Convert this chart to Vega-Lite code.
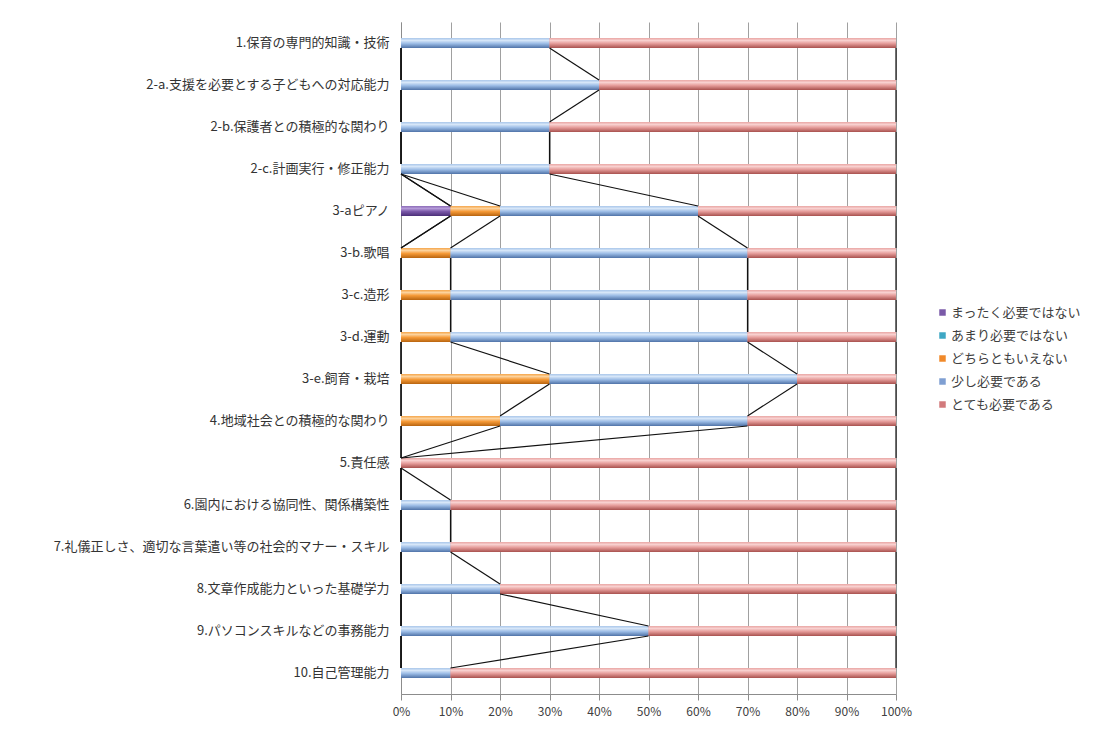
{
  "$schema": "https://vega.github.io/schema/vega-lite/v6.json",
  "width": 495,
  "height": 672,
  "autosize": {"type": "none"},
  "padding": {"left": 401, "top": 22, "right": 201, "bottom": 37},
  "background": "white",
  "config": {"font": "Noto Sans CJK JP", "view": {"stroke": null}},
  "data": {
    "values": [
      {"cat": "1.保育の専門的知識・技術", "order": 1, "series": "まったく必要ではない", "sorder": 1, "value": 0},
      {"cat": "1.保育の専門的知識・技術", "order": 1, "series": "あまり必要ではない", "sorder": 2, "value": 0},
      {"cat": "1.保育の専門的知識・技術", "order": 1, "series": "どちらともいえない", "sorder": 3, "value": 0},
      {"cat": "1.保育の専門的知識・技術", "order": 1, "series": "少し必要である", "sorder": 4, "value": 30},
      {"cat": "1.保育の専門的知識・技術", "order": 1, "series": "とても必要である", "sorder": 5, "value": 70},
      {"cat": "2-a.支援を必要とする子どもへの対応能力", "order": 2, "series": "まったく必要ではない", "sorder": 1, "value": 0},
      {"cat": "2-a.支援を必要とする子どもへの対応能力", "order": 2, "series": "あまり必要ではない", "sorder": 2, "value": 0},
      {"cat": "2-a.支援を必要とする子どもへの対応能力", "order": 2, "series": "どちらともいえない", "sorder": 3, "value": 0},
      {"cat": "2-a.支援を必要とする子どもへの対応能力", "order": 2, "series": "少し必要である", "sorder": 4, "value": 40},
      {"cat": "2-a.支援を必要とする子どもへの対応能力", "order": 2, "series": "とても必要である", "sorder": 5, "value": 60},
      {"cat": "2-b.保護者との積極的な関わり", "order": 3, "series": "まったく必要ではない", "sorder": 1, "value": 0},
      {"cat": "2-b.保護者との積極的な関わり", "order": 3, "series": "あまり必要ではない", "sorder": 2, "value": 0},
      {"cat": "2-b.保護者との積極的な関わり", "order": 3, "series": "どちらともいえない", "sorder": 3, "value": 0},
      {"cat": "2-b.保護者との積極的な関わり", "order": 3, "series": "少し必要である", "sorder": 4, "value": 30},
      {"cat": "2-b.保護者との積極的な関わり", "order": 3, "series": "とても必要である", "sorder": 5, "value": 70},
      {"cat": "2-c.計画実行・修正能力", "order": 4, "series": "まったく必要ではない", "sorder": 1, "value": 0},
      {"cat": "2-c.計画実行・修正能力", "order": 4, "series": "あまり必要ではない", "sorder": 2, "value": 0},
      {"cat": "2-c.計画実行・修正能力", "order": 4, "series": "どちらともいえない", "sorder": 3, "value": 0},
      {"cat": "2-c.計画実行・修正能力", "order": 4, "series": "少し必要である", "sorder": 4, "value": 30},
      {"cat": "2-c.計画実行・修正能力", "order": 4, "series": "とても必要である", "sorder": 5, "value": 70},
      {"cat": "3-aピアノ", "order": 5, "series": "まったく必要ではない", "sorder": 1, "value": 10},
      {"cat": "3-aピアノ", "order": 5, "series": "あまり必要ではない", "sorder": 2, "value": 0},
      {"cat": "3-aピアノ", "order": 5, "series": "どちらともいえない", "sorder": 3, "value": 10},
      {"cat": "3-aピアノ", "order": 5, "series": "少し必要である", "sorder": 4, "value": 40},
      {"cat": "3-aピアノ", "order": 5, "series": "とても必要である", "sorder": 5, "value": 40},
      {"cat": "3-b.歌唱", "order": 6, "series": "まったく必要ではない", "sorder": 1, "value": 0},
      {"cat": "3-b.歌唱", "order": 6, "series": "あまり必要ではない", "sorder": 2, "value": 0},
      {"cat": "3-b.歌唱", "order": 6, "series": "どちらともいえない", "sorder": 3, "value": 10},
      {"cat": "3-b.歌唱", "order": 6, "series": "少し必要である", "sorder": 4, "value": 60},
      {"cat": "3-b.歌唱", "order": 6, "series": "とても必要である", "sorder": 5, "value": 30},
      {"cat": "3-c.造形", "order": 7, "series": "まったく必要ではない", "sorder": 1, "value": 0},
      {"cat": "3-c.造形", "order": 7, "series": "あまり必要ではない", "sorder": 2, "value": 0},
      {"cat": "3-c.造形", "order": 7, "series": "どちらともいえない", "sorder": 3, "value": 10},
      {"cat": "3-c.造形", "order": 7, "series": "少し必要である", "sorder": 4, "value": 60},
      {"cat": "3-c.造形", "order": 7, "series": "とても必要である", "sorder": 5, "value": 30},
      {"cat": "3-d.運動", "order": 8, "series": "まったく必要ではない", "sorder": 1, "value": 0},
      {"cat": "3-d.運動", "order": 8, "series": "あまり必要ではない", "sorder": 2, "value": 0},
      {"cat": "3-d.運動", "order": 8, "series": "どちらともいえない", "sorder": 3, "value": 10},
      {"cat": "3-d.運動", "order": 8, "series": "少し必要である", "sorder": 4, "value": 60},
      {"cat": "3-d.運動", "order": 8, "series": "とても必要である", "sorder": 5, "value": 30},
      {"cat": "3-e.飼育・栽培", "order": 9, "series": "まったく必要ではない", "sorder": 1, "value": 0},
      {"cat": "3-e.飼育・栽培", "order": 9, "series": "あまり必要ではない", "sorder": 2, "value": 0},
      {"cat": "3-e.飼育・栽培", "order": 9, "series": "どちらともいえない", "sorder": 3, "value": 30},
      {"cat": "3-e.飼育・栽培", "order": 9, "series": "少し必要である", "sorder": 4, "value": 50},
      {"cat": "3-e.飼育・栽培", "order": 9, "series": "とても必要である", "sorder": 5, "value": 20},
      {"cat": "4.地域社会との積極的な関わり", "order": 10, "series": "まったく必要ではない", "sorder": 1, "value": 0},
      {"cat": "4.地域社会との積極的な関わり", "order": 10, "series": "あまり必要ではない", "sorder": 2, "value": 0},
      {"cat": "4.地域社会との積極的な関わり", "order": 10, "series": "どちらともいえない", "sorder": 3, "value": 20},
      {"cat": "4.地域社会との積極的な関わり", "order": 10, "series": "少し必要である", "sorder": 4, "value": 50},
      {"cat": "4.地域社会との積極的な関わり", "order": 10, "series": "とても必要である", "sorder": 5, "value": 30},
      {"cat": "5.責任感", "order": 11, "series": "まったく必要ではない", "sorder": 1, "value": 0},
      {"cat": "5.責任感", "order": 11, "series": "あまり必要ではない", "sorder": 2, "value": 0},
      {"cat": "5.責任感", "order": 11, "series": "どちらともいえない", "sorder": 3, "value": 0},
      {"cat": "5.責任感", "order": 11, "series": "少し必要である", "sorder": 4, "value": 0},
      {"cat": "5.責任感", "order": 11, "series": "とても必要である", "sorder": 5, "value": 100},
      {"cat": "6.園内における協同性、関係構築性", "order": 12, "series": "まったく必要ではない", "sorder": 1, "value": 0},
      {"cat": "6.園内における協同性、関係構築性", "order": 12, "series": "あまり必要ではない", "sorder": 2, "value": 0},
      {"cat": "6.園内における協同性、関係構築性", "order": 12, "series": "どちらともいえない", "sorder": 3, "value": 0},
      {"cat": "6.園内における協同性、関係構築性", "order": 12, "series": "少し必要である", "sorder": 4, "value": 10},
      {"cat": "6.園内における協同性、関係構築性", "order": 12, "series": "とても必要である", "sorder": 5, "value": 90},
      {"cat": "7.礼儀正しさ、適切な言葉遣い等の社会的マナー・スキル", "order": 13, "series": "まったく必要ではない", "sorder": 1, "value": 0},
      {"cat": "7.礼儀正しさ、適切な言葉遣い等の社会的マナー・スキル", "order": 13, "series": "あまり必要ではない", "sorder": 2, "value": 0},
      {"cat": "7.礼儀正しさ、適切な言葉遣い等の社会的マナー・スキル", "order": 13, "series": "どちらともいえない", "sorder": 3, "value": 0},
      {"cat": "7.礼儀正しさ、適切な言葉遣い等の社会的マナー・スキル", "order": 13, "series": "少し必要である", "sorder": 4, "value": 10},
      {"cat": "7.礼儀正しさ、適切な言葉遣い等の社会的マナー・スキル", "order": 13, "series": "とても必要である", "sorder": 5, "value": 90},
      {"cat": "8.文章作成能力といった基礎学力", "order": 14, "series": "まったく必要ではない", "sorder": 1, "value": 0},
      {"cat": "8.文章作成能力といった基礎学力", "order": 14, "series": "あまり必要ではない", "sorder": 2, "value": 0},
      {"cat": "8.文章作成能力といった基礎学力", "order": 14, "series": "どちらともいえない", "sorder": 3, "value": 0},
      {"cat": "8.文章作成能力といった基礎学力", "order": 14, "series": "少し必要である", "sorder": 4, "value": 20},
      {"cat": "8.文章作成能力といった基礎学力", "order": 14, "series": "とても必要である", "sorder": 5, "value": 80},
      {"cat": "9.パソコンスキルなどの事務能力", "order": 15, "series": "まったく必要ではない", "sorder": 1, "value": 0},
      {"cat": "9.パソコンスキルなどの事務能力", "order": 15, "series": "あまり必要ではない", "sorder": 2, "value": 0},
      {"cat": "9.パソコンスキルなどの事務能力", "order": 15, "series": "どちらともいえない", "sorder": 3, "value": 0},
      {"cat": "9.パソコンスキルなどの事務能力", "order": 15, "series": "少し必要である", "sorder": 4, "value": 50},
      {"cat": "9.パソコンスキルなどの事務能力", "order": 15, "series": "とても必要である", "sorder": 5, "value": 50},
      {"cat": "10.自己管理能力", "order": 16, "series": "まったく必要ではない", "sorder": 1, "value": 0},
      {"cat": "10.自己管理能力", "order": 16, "series": "あまり必要ではない", "sorder": 2, "value": 0},
      {"cat": "10.自己管理能力", "order": 16, "series": "どちらともいえない", "sorder": 3, "value": 0},
      {"cat": "10.自己管理能力", "order": 16, "series": "少し必要である", "sorder": 4, "value": 10},
      {"cat": "10.自己管理能力", "order": 16, "series": "とても必要である", "sorder": 5, "value": 90}
    ]
  },
  "transform": [
    {"stack": "value", "groupby": ["cat"], "sort": [{"field": "sorder"}], "as": ["x0", "x1"]}
  ],
  "encoding": {
    "y": {
      "field": "cat", "type": "nominal",
      "sort": {"field": "order", "op": "min"},
      "scale": {"paddingInner": 0, "paddingOuter": 0},
      "axis": {"title": null, "labelFontSize": 13, "labelColor": "#333333", "ticks": false, "domainColor": "#8c8c8c", "labelPadding": 12, "grid": false, "labelLimit": 400}
    },
    "x": {
      "field": "x0", "type": "quantitative",
      "scale": {"domain": [0, 100], "nice": false},
      "axis": {"title": null, "values": [0, 10, 20, 30, 40, 50, 60, 70, 80, 90, 100], "labelExpr": "datum.value + '%'", "labelFlush": false, "labelOverlap": false, "labelFontSize": 12, "labelColor": "#404040", "grid": true, "gridColor": "#a0a0a0", "gridOpacity": 1, "tickColor": "#8c8c8c", "domainColor": "#8c8c8c", "tickSize": 6, "labelPadding": 6}
    },
    "x2": {"field": "x1"}
  },
  "layer": [
    {
      "mark": {"type": "bar", "size": 10},
      "encoding": {
        "color": {
          "field": "series", "type": "nominal",
          "scale": {
            "domain": ["まったく必要ではない", "あまり必要ではない", "どちらともいえない", "少し必要である", "とても必要である"],
            "range": ["#7a5aa8", "#3ea7c4", "#f0892a", "#7f9fd2", "#d27a7c"]
          },
          "legend": {"orient": "none", "legendX": 535, "legendY": 284, "title": null, "symbolType": "square", "symbolSize": 42, "symbolStrokeWidth": 0, "labelFontSize": 13, "labelColor": "#404040", "rowPadding": 9, "padding": 0, "labelOffset": 2}
        }
      }
    },
    {
      "mark": {"type": "bar", "size": 10},
      "encoding": {
        "fill": {
          "condition": [
            {"test": "datum.series === 'まったく必要ではない'", "value": {"gradient": "linear", "x1": 0, "y1": 0, "x2": 0, "y2": 1, "stops": [{"offset": 0, "color": "#8c6cb8"}, {"offset": 0.25, "color": "#b49ad8"}, {"offset": 0.55, "color": "#7a58a8"}, {"offset": 1, "color": "#4b2e78"}]}},
            {"test": "datum.series === 'あまり必要ではない'", "value": {"gradient": "linear", "x1": 0, "y1": 0, "x2": 0, "y2": 1, "stops": [{"offset": 0, "color": "#5fb6cf"}, {"offset": 0.25, "color": "#a6dbe9"}, {"offset": 0.55, "color": "#4bacc6"}, {"offset": 1, "color": "#2a7a90"}]}},
            {"test": "datum.series === 'どちらともいえない'", "value": {"gradient": "linear", "x1": 0, "y1": 0, "x2": 0, "y2": 1, "stops": [{"offset": 0, "color": "#f5a54a"}, {"offset": 0.25, "color": "#fcd29c"}, {"offset": 0.55, "color": "#f59a38"}, {"offset": 1, "color": "#b8640f"}]}},
            {"test": "datum.series === '少し必要である'", "value": {"gradient": "linear", "x1": 0, "y1": 0, "x2": 0, "y2": 1, "stops": [{"offset": 0, "color": "#a9c6ea"}, {"offset": 0.25, "color": "#d6e6f8"}, {"offset": 0.55, "color": "#9dbde6"}, {"offset": 1, "color": "#4f73a8"}]}}
          ],
          "value": {"gradient": "linear", "x1": 0, "y1": 0, "x2": 0, "y2": 1, "stops": [{"offset": 0, "color": "#e9a6a4"}, {"offset": 0.25, "color": "#f8d0cf"}, {"offset": 0.55, "color": "#e59c9a"}, {"offset": 1, "color": "#a8514e"}]}
        }
      }
    },
    {
      "transform": [
        {"window": [{"op": "lead", "field": "x1", "as": "nx"}, {"op": "lead", "field": "cat", "as": "ncat"}], "groupby": ["series"], "sort": [{"field": "order"}]},
        {"filter": "datum.ncat != null"}
      ],
      "mark": {"type": "rule", "color": "#111111", "strokeWidth": 1.2, "yOffset": 5, "y2Offset": -5},
      "encoding": {
        "x": {
          "field": "x1", "type": "quantitative",
          "scale": {"domain": [0, 100], "nice": false},
          "axis": {"title": null, "values": [0, 10, 20, 30, 40, 50, 60, 70, 80, 90, 100], "labelExpr": "datum.value + '%'", "labelFlush": false, "labelOverlap": false, "labelFontSize": 12, "labelColor": "#404040", "grid": true, "gridColor": "#a0a0a0", "gridOpacity": 1, "tickColor": "#8c8c8c", "domainColor": "#8c8c8c", "tickSize": 6, "labelPadding": 6}
        },
        "x2": {"field": "nx"},
        "y2": {"field": "ncat"}
      }
    }
  ]
}
